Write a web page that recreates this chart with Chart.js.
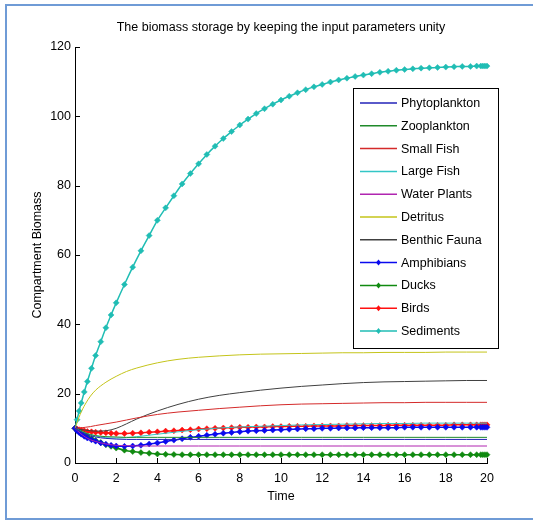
<!DOCTYPE html>
<html>
<head>
<meta charset="utf-8">
<script src="https://cdn.jsdelivr.net/npm/chart.js@4.4.1/dist/chart.umd.min.js"></script>
<style>
  html, body { margin: 0; padding: 0; background: #fff; }
</style>
</head>
<body>
<canvas id="myChart" width="533" height="520"></canvas>
<script>
// time points of the solver output (markers sit on these)
var tFine = [0, 0.1, 0.2, 0.3, 0.45, 0.6, 0.8, 1.0, 1.25, 1.5, 1.75, 2.0,
  2.4, 2.8, 3.2, 3.6, 4.0, 4.4, 4.8, 5.2, 5.6, 6.0, 6.4, 6.8, 7.2, 7.6, 8.0,
  8.4, 8.8, 9.2, 9.6, 10.0, 10.4, 10.8, 11.2, 11.6, 12.0, 12.4, 12.8, 13.2, 13.6, 14.0,
  14.4, 14.8, 15.2, 15.6, 16.0, 16.4, 16.8, 17.2, 17.6, 18.0, 18.4, 18.8, 19.2,
  19.5, 19.7, 19.8, 19.9, 20.0];
// coarser time points for the plain lines
var tCoarse = [0, 0.25, 0.5, 0.75, 1, 1.5, 2, 2.5, 3, 4, 5, 6, 7, 8, 9, 10,
  11, 12, 13, 14, 15, 16, 17, 18, 19, 20];

var xTicks = [0, 2, 4, 6, 8, 10, 12, 14, 16, 18, 20];
var yTicks = [0, 20, 40, 60, 80, 100, 120];

var titleText = 'The biomass storage by keeping the input parameters unity';

// compartment values
var phytoplankton = [10, 9.1, 8.4, 7.9, 7.5, 7.1, 6.9, 6.8, 6.8, 6.8, 6.8, 6.8, 6.8,
  6.8, 6.8, 6.8, 6.8, 6.8, 6.8, 6.8, 6.8, 6.8, 6.8, 6.8, 6.8, 6.8];
var zooplankton = [10, 9.2, 8.6, 8.2, 7.9, 7.6, 7.5, 7.4, 7.4, 7.4, 7.4, 7.4, 7.4,
  7.4, 7.4, 7.4, 7.4, 7.4, 7.4, 7.4, 7.4, 7.4, 7.4, 7.4, 7.4, 7.4];
var smallFish = [10, 10.1, 10.3, 10.5, 10.8, 11.3, 11.8, 12.4, 13, 14, 14.7, 15.2, 15.7,
  16.1, 16.5, 16.8, 17, 17.1, 17.2, 17.3, 17.4, 17.4, 17.5, 17.5, 17.5, 17.5];
var largeFish = [10, 9.3, 8.7, 8.2, 7.8, 7.3, 7.2, 7.3, 7.6, 8.3, 9, 9.6, 10.1,
  10.4, 10.6, 10.8, 11, 11.1, 11.2, 11.3, 11.4, 11.4, 11.5, 11.5, 11.5, 11.5];
var waterPlants = [10, 8.6, 7.5, 6.7, 6.2, 5.5, 5.1, 5.0, 4.9, 4.9, 4.9, 4.9, 4.9,
  4.9, 4.9, 4.9, 4.9, 4.9, 4.9, 4.9, 4.9, 4.9, 4.9, 4.9, 4.9, 4.9];
var detritus = [10, 14, 17, 19.3, 21, 23.3, 25, 26.4, 27.4, 28.9, 29.9, 30.5, 30.9,
  31.2, 31.4, 31.5, 31.6, 31.7, 31.8, 31.8, 31.9, 31.9, 31.9, 32, 32, 32];
var benthicFauna = [10, 9.7, 9.5, 9.3, 9.2, 9.3, 10, 11.3, 12.7, 15, 16.9, 18.4, 19.5,
  20.3, 21, 21.6, 22.1, 22.5, 22.9, 23.2, 23.4, 23.5, 23.6, 23.7, 23.8, 23.8];

var amphibians = [10, 9.3, 8.8, 8.3, 7.7, 7.2, 6.7, 6.3, 5.8, 5.4, 5.1, 4.9,
  4.8, 4.9, 5.1, 5.5, 5.8, 6.2, 6.6, 7.0, 7.4, 7.7, 8.0, 8.3, 8.6, 8.8, 9.0,
  9.2, 9.3, 9.4, 9.5, 9.6, 9.7, 9.8, 9.9, 9.9, 10.0, 10.0, 10.1, 10.1, 10.1, 10.2,
  10.2, 10.2, 10.2, 10.2, 10.3, 10.3, 10.3, 10.3, 10.3, 10.3, 10.3, 10.3, 10.3,
  10.3, 10.3, 10.3, 10.3, 10.3];
var ducks = [10, 9.5, 9.1, 8.7, 8.2, 7.7, 7.1, 6.5, 5.9, 5.3, 4.8, 4.3,
  3.7, 3.3, 3.0, 2.8, 2.6, 2.5, 2.45, 2.4, 2.4, 2.4, 2.4, 2.4, 2.4, 2.4, 2.4,
  2.4, 2.4, 2.4, 2.4, 2.4, 2.4, 2.4, 2.4, 2.4, 2.4, 2.4, 2.4, 2.4, 2.4, 2.4,
  2.4, 2.4, 2.4, 2.4, 2.4, 2.4, 2.4, 2.4, 2.4, 2.4, 2.4, 2.4, 2.4,
  2.4, 2.4, 2.4, 2.4, 2.4];
var birds = [10, 9.8, 9.6, 9.5, 9.3, 9.1, 9.0, 8.9, 8.8, 8.7, 8.6, 8.5,
  8.5, 8.6, 8.7, 8.9, 9.0, 9.2, 9.3, 9.5, 9.6, 9.8, 9.9, 10.0, 10.1, 10.2, 10.3,
  10.3, 10.4, 10.4, 10.5, 10.5, 10.6, 10.6, 10.6, 10.7, 10.7, 10.7, 10.7, 10.8, 10.8, 10.8,
  10.8, 10.8, 10.9, 10.9, 10.9, 10.9, 10.9, 10.9, 10.9, 10.9, 11.0, 11.0, 11.0,
  11.0, 11.0, 11.0, 11.0, 11.0];
var sediments = [10, 12.5, 15, 17.3, 20.5, 23.5, 27.3, 31, 35, 39, 42.7, 46.2,
  51.5, 56.5, 61.2, 65.6, 70, 73.6, 77.1, 80.5, 83.5, 86.3, 89, 91.4, 93.6, 95.6, 97.5,
  99.2, 100.8, 102.2, 103.5, 104.7, 105.8, 106.8, 107.7, 108.5, 109.2, 109.9, 110.5, 111, 111.5, 111.9,
  112.3, 112.7, 113, 113.3, 113.5, 113.7, 113.9, 114, 114.1, 114.2, 114.3, 114.4, 114.4,
  114.5, 114.5, 114.5, 114.5, 114.5];

var FONT = "'Liberation Sans', Arial, sans-serif";

function pairs(ts, vs) {
  return ts.map(function (t, i) { return { x: t, y: vs[i] }; });
}

function plainLine(label, ts, vs, color) {
  return {
    label: label, data: pairs(ts, vs),
    borderColor: color, backgroundColor: color,
    borderWidth: 1, pointRadius: 0, cubicInterpolationMode: 'monotone', clip: 6
  };
}

function markerLine(label, ts, vs, color) {
  return {
    label: label, data: pairs(ts, vs),
    borderColor: color, backgroundColor: color,
    borderWidth: 1.5, pointRadius: 3, pointStyle: 'rectRot',
    pointBorderWidth: 0.5, cubicInterpolationMode: 'monotone', clip: 6
  };
}

// inward tick marks like matlab, title centred over the axes
var axisTicksPlugin = {
  id: 'axisTicks',
  afterDatasetsDraw: function (chart) {
    var ctx = chart.ctx, area = chart.chartArea;
    var xs = chart.scales.x, ys = chart.scales.y;
    ctx.save();
    ctx.strokeStyle = '#000';
    ctx.lineWidth = 1;
    ctx.beginPath();
    xTicks.forEach(function (v) {
      var px = Math.round(xs.getPixelForValue(v)) + 0.5;
      ctx.moveTo(px, area.bottom);
      ctx.lineTo(px, area.bottom - 5);
    });
    yTicks.forEach(function (v) {
      var py = Math.round(ys.getPixelForValue(v)) + 0.5;
      ctx.moveTo(area.left, py);
      ctx.lineTo(area.left + 5, py);
    });
    ctx.stroke();

    ctx.fillStyle = '#000';
    ctx.font = '12.5px ' + FONT;
    ctx.textAlign = 'center';
    ctx.textBaseline = 'middle';
    ctx.fillText(titleText, (area.left + area.right) / 2, 28);
    ctx.restore();
  }
};

// boxed legend inside the axes, plus the figure frame
var legendBoxPlugin = {
  id: 'legendBox',
  afterDraw: function (chart) {
    var ctx = chart.ctx;
    var box = { x: 353.5, y: 88.5, w: 145, h: 260 };
    ctx.save();
    ctx.fillStyle = '#fff';
    ctx.fillRect(box.x, box.y, box.w, box.h);
    ctx.strokeStyle = '#000';
    ctx.lineWidth = 1;
    ctx.strokeRect(box.x, box.y, box.w, box.h);
    ctx.font = '12.5px ' + FONT;
    ctx.textBaseline = 'middle';
    ctx.textAlign = 'left';
    chart.data.datasets.forEach(function (ds, i) {
      var y = 103 + i * 22.8;
      ctx.strokeStyle = ds.borderColor;
      ctx.lineWidth = 1.5;
      ctx.beginPath();
      ctx.moveTo(360, y);
      ctx.lineTo(397, y);
      ctx.stroke();
      if (ds.pointRadius > 0) {
        ctx.fillStyle = ds.borderColor;
        ctx.beginPath();
        ctx.moveTo(378.5, y - 3);
        ctx.lineTo(381, y);
        ctx.lineTo(378.5, y + 3);
        ctx.lineTo(376, y);
        ctx.closePath();
        ctx.fill();
      }
      ctx.fillStyle = '#000';
      ctx.fillText(ds.label, 401, y + 0.5);
    });

    ctx.strokeStyle = '#6f9bd6';
    ctx.lineWidth = 2;
    ctx.beginPath();
    ctx.moveTo(533, 5);
    ctx.lineTo(6, 5);
    ctx.lineTo(6, 519);
    ctx.lineTo(533, 519);
    ctx.stroke();
    ctx.restore();
  }
};

Chart.defaults.font.family = FONT;
Chart.defaults.font.size = 12.5;
Chart.defaults.color = '#000';

var ctx = document.getElementById('myChart').getContext('2d');
var myChart = new Chart(ctx, {
  type: 'line',
  data: {
    datasets: [
      plainLine('Phytoplankton', tCoarse, phytoplankton, '#2323b8'),
      plainLine('Zooplankton', tCoarse, zooplankton, '#1f8a2a'),
      plainLine('Small Fish', tCoarse, smallFish, '#d42a2a'),
      plainLine('Large Fish', tCoarse, largeFish, '#33c6c6'),
      plainLine('Water Plants', tCoarse, waterPlants, '#b025b0'),
      plainLine('Detritus', tCoarse, detritus, '#c4c41a'),
      plainLine('Benthic Fauna', tCoarse, benthicFauna, '#404040'),
      markerLine('Amphibians', tFine, amphibians, '#0a0aee'),
      markerLine('Ducks', tFine, ducks, '#108a10'),
      markerLine('Birds', tFine, birds, '#ff1010'),
      markerLine('Sediments', tFine, sediments, '#20bdb4')
    ]
  },
  options: {
    responsive: false,
    animation: false,
    devicePixelRatio: 1,
    layout: { padding: { left: 0, right: 46, top: 47, bottom: 0 } },
    plugins: {
      legend: { display: false },
      tooltip: { enabled: false },
      title: { display: false }
    },
    scales: {
      x: {
        type: 'linear', min: 0, max: 20,
        grid: { display: false, drawTicks: false },
        border: { display: true, color: '#000', width: 1 },
        ticks: { stepSize: 2, padding: 8, autoSkip: false, maxRotation: 0 },
        title: { display: true, text: 'Time', color: '#000', padding: { top: 0, bottom: 15.5 } },
        afterFit: function (scale) { scale.height = 57; }
      },
      y: {
        type: 'linear', min: 0, max: 120,
        grid: { display: false, drawTicks: false },
        border: { display: true, color: '#000', width: 1 },
        ticks: { stepSize: 20, padding: 4 },
        title: { display: true, text: 'Compartment Biomass', color: '#000', padding: { top: 30.5, bottom: 0 } },
        afterFit: function (scale) { scale.width = 75; }
      }
    }
  },
  plugins: [axisTicksPlugin, legendBoxPlugin]
});
</script>
</body>
</html>
